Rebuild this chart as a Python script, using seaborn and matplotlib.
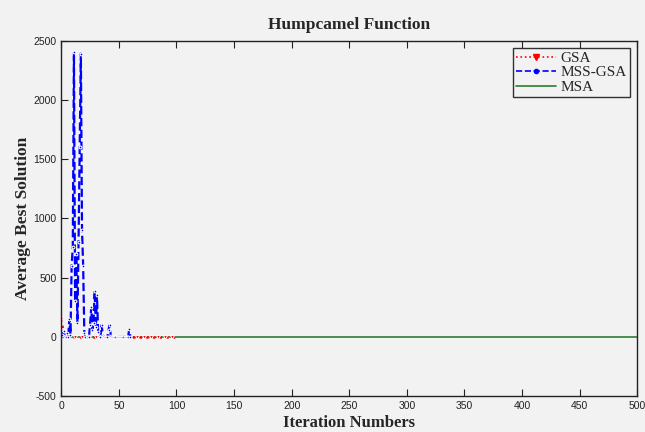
import numpy as np
import pandas as pd
import matplotlib
matplotlib.use("Agg")
import matplotlib.pyplot as plt
import seaborn as sns
from matplotlib.lines import Line2D

# ---- data ----
gsa_iter = list(range(0, 101))
gsa_vals = [150, 90, 40, 15] + [-5] * 97

mss_iter = list(range(0, 61))
mss_vals = [60, 20, 50, 10, 0, 30, 0, 150, 20, 600, 760, 2400, 300,
            700, 120, 800, 1600, 2390, 900, 600, 30, 0, 10, 5, 0,
            100, 250, 60, 120, 390, 80, 350, 40, 10, 0, 100, 20, 5, 0,
            0, 0, 60, 100, 10, 0, 0, 0, 0, 0, 0, 0, 0, 0, 0, 0, 0,
            0, 0, 0, 65, 0]

msa_iter = [0, 500]
msa_vals = [0, 0]

x_ticks = [0, 50, 100, 150, 200, 250, 300, 350, 400, 450, 500]
y_ticks = [-500, 0, 500, 1000, 1500, 2000, 2500]

sns.set_style("ticks")
bg = "#f2f2f2"
plt.rcParams["font.family"] = ["Liberation Sans", "DejaVu Sans"]
plt.rcParams["axes.unicode_minus"] = False

fig = plt.figure(figsize=(6.45, 4.32), dpi=100, facecolor=bg)
ax = fig.add_axes([0.095, 0.083, 0.893, 0.823])
ax.set_facecolor(bg)

df_gsa = pd.DataFrame({"x": gsa_iter, "y": gsa_vals})
df_mss = pd.DataFrame({"x": mss_iter, "y": mss_vals})
df_msa = pd.DataFrame({"x": msa_iter, "y": msa_vals})

sns.lineplot(data=df_msa, x="x", y="y", ax=ax, color="#2e7d32", linestyle="-",
             lw=1.2, legend=False)
sns.lineplot(data=df_gsa, x="x", y="y", ax=ax, color="red", linestyle=":",
             marker="v", markersize=3, markevery=6, lw=1.8, legend=False)
sns.lineplot(data=df_mss, x="x", y="y", ax=ax, color="blue", linestyle="--",
             marker=".", markersize=4, lw=1.6, legend=False)

ax.set_xlim(0, 500)
ax.set_ylim(-500, 2500)
ax.set_xticks(x_ticks)
ax.set_yticks(y_ticks)
ax.tick_params(axis="both", direction="in", length=5, labelsize=7.5,
               top=True, right=False, colors="#222222")
for s in ax.spines.values():
    s.set_visible(True)
    s.set_linewidth(1.0)
    s.set_color("#222222")

ax.set_title("Humpcamel Function", fontsize=12.5, fontweight="bold",
             family=["Liberation Serif"], pad=8)
ax.set_xlabel("Iteration Numbers", fontsize=12, fontweight="bold",
              family=["Liberation Serif"], labelpad=3)
ax.set_ylabel("Average Best Solution", fontsize=12.5, fontweight="bold",
              family=["Liberation Serif"], labelpad=2)

handles = [
    Line2D([0, 0.5, 1], [0, 0, 0], color="red", linestyle=":", marker="v",
           markersize=4, markevery=[1], lw=1.2),
    Line2D([0, 0.5, 1], [0, 0, 0], color="blue", linestyle="--", marker=".",
           markersize=6, markevery=[1], lw=1.2),
    Line2D([], [], color="#2e7d32", linestyle="-", lw=1.2),
]
leg = ax.legend(handles, ["GSA", "MSS-GSA", "MSA"], loc="upper right",
                frameon=True, fancybox=False,
                prop={"family": "Liberation Serif", "size": 11},
                handlelength=2.6, handletextpad=0.3, borderpad=0.2,
                labelspacing=0.05, borderaxespad=0.5)
leg.get_frame().set_edgecolor("black")
leg.get_frame().set_facecolor(bg)
leg.get_frame().set_linewidth(1.0)

fig.savefig("out.png", dpi=100, facecolor=bg)
